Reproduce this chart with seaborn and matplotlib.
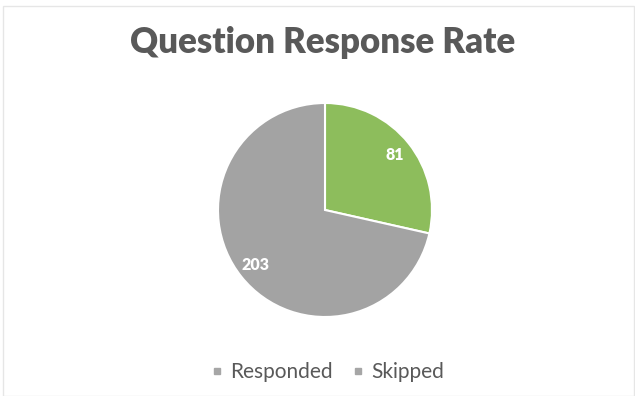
import matplotlib
matplotlib.use("Agg")
import matplotlib.pyplot as plt
import seaborn as sns
import numpy as np
from matplotlib.patches import Rectangle

categories = ["Responded", "Skipped"]
values = [81, 203]
slice_colors = ["#8dbd5c", "#a3a3a3"]
legend_colors = ["#a6a6a6", "#a6a6a6"]
title = "Question Response Rate"

sns.set_theme(style="white")
plt.rcParams["font.family"] = ["Lato", "DejaVu Sans"]

fig = plt.figure(figsize=(6.35, 3.96), dpi=100)
fig.patch.set_facecolor("white")
fig.patches.append(Rectangle((0.005, 0.0), 0.993, 0.985, transform=fig.transFigure,
                             fill=False, edgecolor="#e6e6e6", linewidth=1.0))

# pie axes: center ~ (325, 210) px, radius ~107 px
r = 107
cx, cy = 325, 210
W, H = 635, 396
ax = fig.add_axes([(cx - r) / W, (H - cy - r) / H, 2 * r / W, 2 * r / H])
wedges, texts = ax.pie(values, colors=slice_colors, startangle=90, counterclock=False,
                       wedgeprops=dict(edgecolor="white", linewidth=1.5))
ax.set_aspect("equal")
total = sum(values)
start = 90
for v, w in zip(values, wedges):
    frac = v / total
    mid = np.deg2rad(start - frac * 360 / 2)
    ax.text(0.83 * np.cos(mid), 0.83 * np.sin(mid), str(v), ha="center", va="center",
            color="white", fontsize=11.5, fontweight="heavy")
    start -= frac * 360
ax.set_xlim(-1, 1)
ax.set_ylim(-1, 1)

fig.text(0.508, 0.893, title, ha="center", va="center", fontsize=25, fontweight="heavy",
         color="#595959")

handles = [plt.Line2D([], [], marker="s", linestyle="", markersize=5,
                      markerfacecolor=c, markeredgecolor=c) for c in legend_colors]
fig.legend(handles, categories, loc="center", bbox_to_anchor=(0.514, 0.06), ncol=2,
           frameon=False, fontsize=15, labelcolor="#595959", handletextpad=0.25,
           columnspacing=0.8, handlelength=0.8)

fig.savefig("out.png", dpi=100, facecolor="white")
